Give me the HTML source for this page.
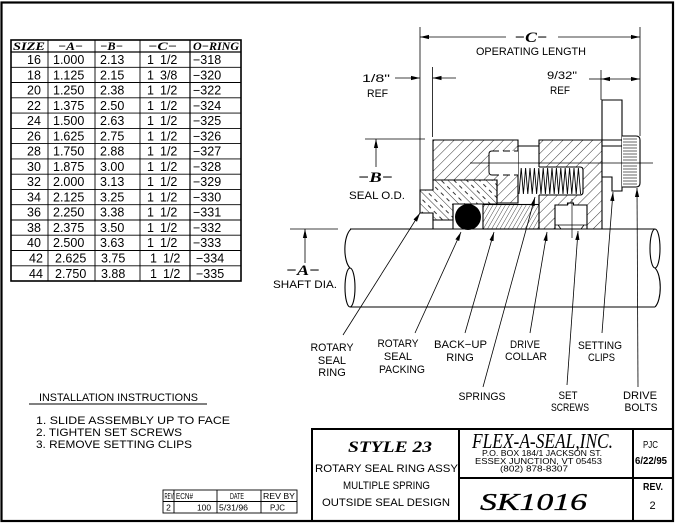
<!DOCTYPE html>
<html><head><meta charset="utf-8"><style>
html,body{margin:0;padding:0;background:#fff;}
svg{display:block;}
text{font-family:"Liberation Sans",sans-serif;fill:#000;}
.s{font-family:"Liberation Serif",serif;font-style:italic;font-weight:bold;}
.sr{font-family:"Liberation Serif",serif;font-style:italic;}
.l{font-size:11px;}
.d{font-size:12.5px;}
</style></head><body>
<svg width="676" height="523" viewBox="0 0 676 523" xmlns="http://www.w3.org/2000/svg">
<defs>
<marker id="a" markerWidth="10" markerHeight="6" refX="9" refY="3" orient="auto" markerUnits="userSpaceOnUse"><path d="M0,0.9 L9,3 L0,5.1 Z" fill="#000"/></marker>
<pattern id="h1" width="7" height="7" patternUnits="userSpaceOnUse" patternTransform="rotate(45)"><line x1="0" y1="0" x2="0" y2="7" stroke="#000" stroke-width="0.8"/></pattern>
<pattern id="h2" width="9" height="8" patternUnits="userSpaceOnUse" patternTransform="rotate(-45)"><line x1="0" y1="0" x2="0" y2="8" stroke="#000" stroke-width="0.8"/><line x1="4.5" y1="0" x2="4.5" y2="4" stroke="#000" stroke-width="0.8"/></pattern>
<pattern id="h3" width="3.6" height="4" patternUnits="userSpaceOnUse" patternTransform="rotate(30)"><line x1="0" y1="0" x2="0" y2="4" stroke="#000" stroke-width="0.7"/></pattern>
</defs>
<rect width="676" height="523" fill="#fff"/>
<!-- page border -->
<rect x="1.5" y="2.5" width="671.5" height="518.5" fill="none" stroke="#000" stroke-width="2.2"/>

<!-- TABLE -->
<g stroke="#000" fill="none">
<rect x="11" y="40" width="230" height="241" stroke-width="1.6"/>
<line x1="11" y1="52" x2="241" y2="52" stroke-width="1.2"/>
<g stroke-width="0.9">
<line x1="11" y1="67.3" x2="241" y2="67.3"/><line x1="11" y1="82.5" x2="241" y2="82.5"/>
<line x1="11" y1="97.8" x2="241" y2="97.8"/><line x1="11" y1="113.1" x2="241" y2="113.1"/>
<line x1="11" y1="128.4" x2="241" y2="128.4"/><line x1="11" y1="143.6" x2="241" y2="143.6"/>
<line x1="11" y1="158.9" x2="241" y2="158.9"/><line x1="11" y1="174.2" x2="241" y2="174.2"/>
<line x1="11" y1="189.4" x2="241" y2="189.4"/><line x1="11" y1="204.7" x2="241" y2="204.7"/>
<line x1="11" y1="220" x2="241" y2="220"/><line x1="11" y1="235.2" x2="241" y2="235.2"/>
<line x1="11" y1="250.5" x2="241" y2="250.5"/><line x1="11" y1="265.8" x2="241" y2="265.8"/>
<line x1="48" y1="40" x2="48" y2="281"/><line x1="95" y1="40" x2="95" y2="281"/>
<line x1="140" y1="40" x2="140" y2="281"/><line x1="190" y1="40" x2="190" y2="281" stroke-width="1.2"/>
</g>
</g>
<g font-size="12">
<text class="s" x="13" y="50" textLength="32" lengthAdjust="spacingAndGlyphs">SIZE</text>
<text class="s" x="58" y="50" textLength="25" lengthAdjust="spacingAndGlyphs">−A−</text>
<text class="s" x="100" y="50" textLength="23" lengthAdjust="spacingAndGlyphs">−B−</text>
<text class="s" x="148" y="50" textLength="29" lengthAdjust="spacingAndGlyphs">−C−</text>
<text class="s" x="193" y="50" textLength="46" lengthAdjust="spacingAndGlyphs">O−RING</text>
</g>
<g class="d" font-size="12.5">
<text x="27" y="64">16</text><text x="53" y="64">1.000</text><text x="100" y="64">2.13</text><text x="147" y="64">1</text><text x="160" y="64">1/2</text><text x="193" y="64">−318</text>
<text x="27" y="79.3">18</text><text x="53" y="79.3">1.125</text><text x="100" y="79.3">2.15</text><text x="147" y="79.3">1</text><text x="160" y="79.3">3/8</text><text x="193" y="79.3">−320</text>
<text x="27" y="94.5">20</text><text x="53" y="94.5">1.250</text><text x="100" y="94.5">2.38</text><text x="147" y="94.5">1</text><text x="160" y="94.5">1/2</text><text x="193" y="94.5">−322</text>
<text x="27" y="109.8">22</text><text x="53" y="109.8">1.375</text><text x="100" y="109.8">2.50</text><text x="147" y="109.8">1</text><text x="160" y="109.8">1/2</text><text x="193" y="109.8">−324</text>
<text x="27" y="125.1">24</text><text x="53" y="125.1">1.500</text><text x="100" y="125.1">2.63</text><text x="147" y="125.1">1</text><text x="160" y="125.1">1/2</text><text x="193" y="125.1">−325</text>
<text x="27" y="140.4">26</text><text x="53" y="140.4">1.625</text><text x="100" y="140.4">2.75</text><text x="147" y="140.4">1</text><text x="160" y="140.4">1/2</text><text x="193" y="140.4">−326</text>
<text x="27" y="155.6">28</text><text x="53" y="155.6">1.750</text><text x="100" y="155.6">2.88</text><text x="147" y="155.6">1</text><text x="160" y="155.6">1/2</text><text x="193" y="155.6">−327</text>
<text x="27" y="170.9">30</text><text x="53" y="170.9">1.875</text><text x="100" y="170.9">3.00</text><text x="147" y="170.9">1</text><text x="160" y="170.9">1/2</text><text x="193" y="170.9">−328</text>
<text x="27" y="186.2">32</text><text x="53" y="186.2">2.000</text><text x="100" y="186.2">3.13</text><text x="147" y="186.2">1</text><text x="160" y="186.2">1/2</text><text x="193" y="186.2">−329</text>
<text x="27" y="201.4">34</text><text x="53" y="201.4">2.125</text><text x="100" y="201.4">3.25</text><text x="147" y="201.4">1</text><text x="160" y="201.4">1/2</text><text x="193" y="201.4">−330</text>
<text x="27" y="216.7">36</text><text x="53" y="216.7">2.250</text><text x="100" y="216.7">3.38</text><text x="147" y="216.7">1</text><text x="160" y="216.7">1/2</text><text x="193" y="216.7">−331</text>
<text x="27" y="232">38</text><text x="53" y="232">2.375</text><text x="100" y="232">3.50</text><text x="147" y="232">1</text><text x="160" y="232">1/2</text><text x="193" y="232">−332</text>
<text x="27" y="247.2">40</text><text x="53" y="247.2">2.500</text><text x="100" y="247.2">3.63</text><text x="147" y="247.2">1</text><text x="160" y="247.2">1/2</text><text x="193" y="247.2">−333</text>
<text x="29" y="262.5">42</text><text x="55" y="262.5">2.625</text><text x="101" y="262.5">3.75</text><text x="150" y="262.5">1</text><text x="163" y="262.5">1/2</text><text x="196" y="262.5">−334</text>
<text x="29" y="277.8">44</text><text x="55" y="277.8">2.750</text><text x="101" y="277.8">3.88</text><text x="150" y="277.8">1</text><text x="163" y="277.8">1/2</text><text x="196" y="277.8">−335</text>
</g>

<!-- SEAL DRAWING -->
<g stroke="#000" fill="none" stroke-width="1.1">
<line x1="350" y1="229" x2="655" y2="229"/>
<line x1="350" y1="307" x2="655" y2="307"/>
<path d="M351,229 C343,236 343,261 350,268"/>
<ellipse cx="350" cy="287.5" rx="5" ry="19.5"/>
<ellipse cx="655" cy="248.5" rx="5" ry="19.5"/>
<path d="M655,268 C662,275 662,300 655,307"/>
</g>

<!-- upper block -->
<path d="M433,140 H518 V203 H497 V180 H433 Z" fill="url(#h1)" stroke="#000" stroke-width="1.1"/>
<rect x="489" y="151" width="29" height="24" fill="#fff"/>
<g stroke="#000" fill="none" stroke-width="1">
<path d="M492,151 Q489,151 489,154 V172 Q489,175 492,175"/>
<line x1="492" y1="151" x2="518" y2="151" stroke-dasharray="7,4"/>
<line x1="492" y1="175" x2="518" y2="175" stroke-dasharray="7,4"/>
</g>

<!-- rotary seal ring -->
<path d="M420,190 H433 V180 H497 V204 H453 V220 H433 V213 H420 Z" fill="url(#h2)" stroke="#000" stroke-width="1.1"/>
<g stroke="#000" stroke-width="1.1">
<line x1="433" y1="213" x2="433" y2="229"/>
<line x1="453" y1="204" x2="453" y2="229"/>
<line x1="453" y1="204" x2="483" y2="204"/>
</g>
<circle cx="468" cy="217" r="13" fill="#000"/>
<rect x="483" y="204.5" width="56" height="24.5" fill="url(#h3)" stroke="#000" stroke-width="1.1"/>

<!-- drive collar -->
<path d="M539,140 H602 V229 H539 Z M539,167 H583 V195 H539 Z M555,205 H587 V229 H555 Z" fill="url(#h1)" fill-rule="evenodd"/>
<g stroke="#000" fill="none" stroke-width="1.1">
<path d="M539,167 V140 H602 V229"/>
<line x1="539" y1="195" x2="539" y2="229"/>
<path d="M539,167 H580 Q583,167 583,170 V192 Q583,195 580,195 H539"/>
<path d="M555,229 V205 H567.5 V203 H573.5 V205 H587 V229"/>
<path d="M555,225 H587 M558,225 L561,229 M584,225 L581,229" stroke-width="0.8"/>
<line x1="572" y1="199" x2="572" y2="238" stroke-width="0.7"/>
</g>
<line x1="518" y1="146" x2="539" y2="146" stroke="#000" stroke-width="1"/>
<polyline fill="none" stroke="#000" stroke-width="0.9" points="519,194 521.2,168 523.4,194 525.6,168 527.8,194 530,168 532.2,194 534.4,168 536.6,194 538.8,168 541,194 543.2,168 545.4,194 547.6,168 549.8,194 552,168 554.2,194 556.4,168 558.6,194 560.8,168 563,194 565.2,168 567.4,194 569.6,168 571.8,194 574,168 576.2,194 578.4,168 580.6,194"/>

<!-- setting clip -->
<path d="M602,100 H622 V191 H612 V177 H602 Z" fill="#fff" stroke="#000" stroke-width="1.1"/>
<line x1="602" y1="140" x2="622" y2="140" stroke="#000" stroke-width="1"/>
<line x1="602" y1="146" x2="622" y2="146" stroke="#000" stroke-width="1"/>
<!-- bolt head -->
<path d="M622,136 H636 Q640,136 640,140 V183 Q640,187 636,187 H622" fill="#fff" stroke="#000" stroke-width="1.1"/>
<g stroke="#000" stroke-width="0.6">
<line x1="623" y1="139" x2="637" y2="139"/><line x1="623" y1="142" x2="637" y2="142"/><line x1="623" y1="145" x2="637" y2="145"/><line x1="623" y1="148" x2="637" y2="148"/><line x1="623" y1="151" x2="637" y2="151"/><line x1="623" y1="154" x2="637" y2="154"/><line x1="623" y1="157" x2="637" y2="157"/><line x1="623" y1="160" x2="637" y2="160"/><line x1="623" y1="166" x2="637" y2="166"/><line x1="623" y1="169" x2="637" y2="169"/><line x1="623" y1="172" x2="637" y2="172"/><line x1="623" y1="175" x2="637" y2="175"/><line x1="623" y1="178" x2="637" y2="178"/><line x1="623" y1="181" x2="637" y2="181"/><line x1="623" y1="184" x2="637" y2="184"/>
</g>
<line x1="470" y1="163" x2="653" y2="163" stroke="#000" stroke-width="0.8"/>

<!-- dimensions -->
<g stroke="#000" stroke-width="0.8" fill="none">
<line x1="420" y1="27" x2="420" y2="190"/>
<line x1="640" y1="27" x2="640" y2="136"/>
<line x1="506" y1="37" x2="420" y2="37" marker-end="url(#a)"/>
<line x1="558" y1="37" x2="640" y2="37" marker-end="url(#a)"/>
<line x1="395" y1="78" x2="420" y2="78" marker-end="url(#a)"/>
<line x1="432.5" y1="67" x2="432.5" y2="137"/>
<line x1="456" y1="78" x2="432.5" y2="78" marker-end="url(#a)"/>
<line x1="601" y1="70" x2="601" y2="100"/>
<line x1="589" y1="79" x2="601" y2="79"/>
<line x1="620" y1="79" x2="601" y2="79" marker-end="url(#a)"/>
<line x1="620" y1="79" x2="640" y2="79" marker-end="url(#a)"/>
<line x1="365" y1="139" x2="425" y2="139"/>
<line x1="376" y1="167" x2="376" y2="139" marker-end="url(#a)"/>
<line x1="290" y1="229" x2="338" y2="229"/>
<line x1="305" y1="263" x2="305" y2="229" marker-end="url(#a)"/>
<line x1="343" y1="335" x2="420" y2="213" marker-end="url(#a)"/>
<line x1="415" y1="333" x2="461" y2="232" marker-end="url(#a)"/>
<line x1="465" y1="333" x2="494" y2="232" marker-end="url(#a)"/>
<line x1="483" y1="387" x2="535" y2="197" marker-end="url(#a)"/>
<line x1="530" y1="333" x2="547" y2="232" marker-end="url(#a)"/>
<line x1="567" y1="385" x2="578" y2="231" marker-end="url(#a)"/>
<line x1="602" y1="333" x2="613" y2="192" marker-end="url(#a)"/>
<line x1="638" y1="387" x2="637" y2="188" marker-end="url(#a)"/>
</g>

<!-- dimension texts -->
<text class="s" x="531" y="42" font-size="15" text-anchor="middle" textLength="33" lengthAdjust="spacingAndGlyphs">−C−</text>
<text class="l" x="531" y="55" text-anchor="middle" textLength="110" lengthAdjust="spacingAndGlyphs">OPERATING  LENGTH</text>
<text class="l" x="376" y="82" text-anchor="middle" textLength="28" lengthAdjust="spacingAndGlyphs">1/8"</text>
<text class="l" x="377.5" y="97" text-anchor="middle" textLength="21" lengthAdjust="spacingAndGlyphs">REF</text>
<text class="l" x="562" y="79" text-anchor="middle" textLength="30" lengthAdjust="spacingAndGlyphs">9/32"</text>
<text class="l" x="560" y="94" text-anchor="middle" textLength="20" lengthAdjust="spacingAndGlyphs">REF</text>
<text class="s" x="375.5" y="182" font-size="15" text-anchor="middle" textLength="35" lengthAdjust="spacingAndGlyphs">−B−</text>
<text class="l" x="377" y="199" text-anchor="middle" textLength="56" lengthAdjust="spacingAndGlyphs">SEAL  O.D.</text>
<text class="s" x="303" y="275" font-size="15" text-anchor="middle" textLength="34" lengthAdjust="spacingAndGlyphs">−A−</text>
<text class="l" x="305" y="288" text-anchor="middle" textLength="64" lengthAdjust="spacingAndGlyphs">SHAFT  DIA.</text>

<!-- part labels -->
<g class="l" text-anchor="middle">
<text x="332" y="351" textLength="43" lengthAdjust="spacingAndGlyphs">ROTARY</text>
<text x="332" y="364">SEAL</text>
<text x="332" y="376">RING</text>
<text x="398" y="347" textLength="41" lengthAdjust="spacingAndGlyphs">ROTARY</text>
<text x="398" y="360">SEAL</text>
<text x="402" y="373" textLength="46" lengthAdjust="spacingAndGlyphs">PACKING</text>
<text x="460.5" y="348" textLength="53" lengthAdjust="spacingAndGlyphs">BACK−UP</text>
<text x="460" y="361">RING</text>
<text x="525" y="348" textLength="30" lengthAdjust="spacingAndGlyphs">DRIVE</text>
<text x="526" y="360" textLength="42" lengthAdjust="spacingAndGlyphs">COLLAR</text>
<text x="600" y="349" textLength="44" lengthAdjust="spacingAndGlyphs">SETTING</text>
<text x="601.5" y="361" textLength="27" lengthAdjust="spacingAndGlyphs">CLIPS</text>
<text x="482" y="400" textLength="47" lengthAdjust="spacingAndGlyphs">SPRINGS</text>
<text x="568" y="399" textLength="19" lengthAdjust="spacingAndGlyphs">SET</text>
<text x="570" y="411" textLength="38" lengthAdjust="spacingAndGlyphs">SCREWS</text>
<text x="640" y="399" textLength="34" lengthAdjust="spacingAndGlyphs">DRIVE</text>
<text x="641" y="411" textLength="33" lengthAdjust="spacingAndGlyphs">BOLTS</text>
</g>

<!-- installation instructions -->
<g class="l">
<text x="39" y="401" textLength="159" lengthAdjust="spacingAndGlyphs">INSTALLATION  INSTRUCTIONS</text>
<text x="36" y="424" textLength="194" lengthAdjust="spacingAndGlyphs">1.  SLIDE  ASSEMBLY  UP  TO  FACE</text>
<text x="36" y="436" textLength="146" lengthAdjust="spacingAndGlyphs">2.  TIGHTEN  SET  SCREWS</text>
<text x="36" y="448" textLength="156" lengthAdjust="spacingAndGlyphs">3.  REMOVE  SETTING  CLIPS</text>
</g>
<line x1="29" y1="404" x2="207" y2="404" stroke="#000" stroke-width="0.9"/>

<!-- rev table -->
<g stroke="#000" fill="none" stroke-width="0.9">
<rect x="163" y="490" width="134" height="23"/>
<line x1="163" y1="501.5" x2="297" y2="501.5"/>
<line x1="174" y1="490" x2="174" y2="513"/>
<line x1="217" y1="490" x2="217" y2="513"/>
<line x1="261" y1="490" x2="261" y2="513"/>
</g>
<text x="164.5" y="499" font-size="8" textLength="9" lengthAdjust="spacingAndGlyphs">REV</text>
<text x="176" y="499" font-size="8" textLength="17" lengthAdjust="spacingAndGlyphs">ECN#</text>
<text x="230" y="499" font-size="8" textLength="14" lengthAdjust="spacingAndGlyphs">DATE</text>
<text x="263" y="499" font-size="8" textLength="32" lengthAdjust="spacingAndGlyphs">REV  BY</text>
<text x="168.5" y="510.5" text-anchor="middle" font-size="8.5">2</text>
<text x="197" y="510.5" font-size="8.5" textLength="14" lengthAdjust="spacingAndGlyphs">100</text>
<text x="219" y="510.5" font-size="8.5" textLength="29" lengthAdjust="spacingAndGlyphs">5/31/96</text>
<text x="270" y="510.5" font-size="8" textLength="15" lengthAdjust="spacingAndGlyphs">PJC</text>

<!-- title block -->
<g stroke="#000" fill="none" stroke-width="2">
<path d="M312,521 V429 H673"/>
<line x1="459" y1="429" x2="459" y2="521"/>
<line x1="633" y1="429" x2="633" y2="521"/>
<line x1="459" y1="478" x2="673" y2="478"/>
</g>
<text class="s" x="390" y="452" font-size="16" text-anchor="middle" textLength="84" lengthAdjust="spacingAndGlyphs">STYLE  23</text>
<text class="l" x="386.5" y="472" text-anchor="middle" textLength="143" lengthAdjust="spacingAndGlyphs">ROTARY  SEAL  RING  ASSY</text>
<text class="l" x="386.5" y="489" text-anchor="middle" textLength="87" lengthAdjust="spacingAndGlyphs">MULTIPLE  SPRING</text>
<text class="l" x="386" y="506" text-anchor="middle" textLength="128" lengthAdjust="spacingAndGlyphs">OUTSIDE  SEAL  DESIGN</text>
<text class="sr" x="542.5" y="448" font-size="21" text-anchor="middle" textLength="141" lengthAdjust="spacingAndGlyphs">FLEX-A-SEAL,INC.</text>
<text x="542" y="456" font-size="8" text-anchor="middle" textLength="120" lengthAdjust="spacingAndGlyphs">P.O. BOX 184/1 JACKSON ST.</text>
<text x="538.5" y="464" font-size="8" text-anchor="middle" textLength="127" lengthAdjust="spacingAndGlyphs">ESSEX JUNCTION, VT 05453</text>
<text x="534" y="471.5" font-size="8" text-anchor="middle" textLength="68" lengthAdjust="spacingAndGlyphs">(802) 878-8307</text>
<text class="sr" x="533.5" y="510" font-size="24" text-anchor="middle" textLength="107" lengthAdjust="spacingAndGlyphs" stroke="#000" stroke-width="0.3">SK1016</text>
<text x="650.5" y="448" font-size="10" text-anchor="middle" textLength="15" lengthAdjust="spacingAndGlyphs">PJC</text>
<text x="651" y="464" font-size="10" font-weight="bold" text-anchor="middle" textLength="32" lengthAdjust="spacingAndGlyphs">6/22/95</text>
<text x="653" y="490" font-size="10" font-weight="bold" text-anchor="middle" textLength="20" lengthAdjust="spacingAndGlyphs">REV.</text>
<text x="652.5" y="509" font-size="11" text-anchor="middle">2</text>
</svg>
</body></html>
